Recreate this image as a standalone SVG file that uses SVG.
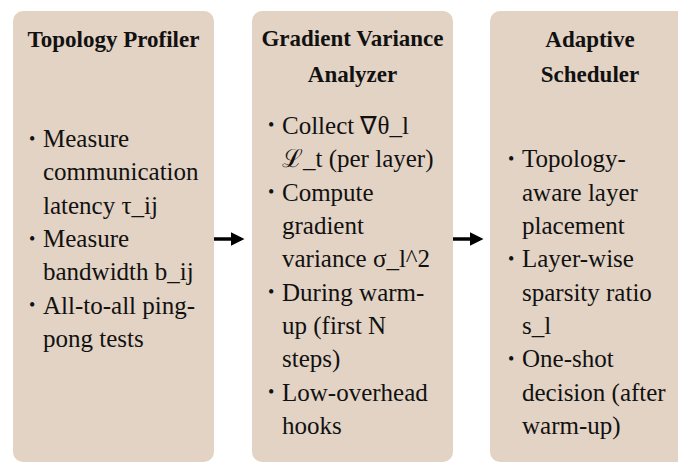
<svg xmlns="http://www.w3.org/2000/svg" width="678" height="462" viewBox="0 0 678 462">
<style>
text{font-family:'Liberation Serif','Times New Roman',serif;fill:#111;}
.box{fill:#e3d3c4;}
.title{font-weight:bold;font-size:23px;text-anchor:middle;}
.body{font-size:25px;}
.bul{font-size:18px;}
.conn{stroke:#000;stroke-width:3.5;fill:none;}
</style>
<defs>
<marker id="ah" markerWidth="4" markerHeight="4" refX="3" refY="2" orient="auto" markerUnits="strokeWidth">
<path d="M0,0 L4,2 L0,4 Z" fill="#000"/>
</marker>
</defs>
<rect width="678" height="462" fill="#fff"/>
<g id="node-topology-profiler">
<rect class="box" x="13" y="11" width="201" height="451" rx="10"/>
<text class="title" x="113.5" y="47">Topology Profiler</text>
<text class="bul" x="29" y="145">•</text>
<text class="body" x="43" y="147">Measure</text>
<text class="body" x="43" y="180">communication</text>
<text class="body" x="43" y="213.5">latency τ_ij</text>
<text class="bul" x="29" y="245">•</text>
<text class="body" x="43" y="247">Measure</text>
<text class="body" x="43" y="280">bandwidth b_ij</text>
<text class="bul" x="29" y="311">•</text>
<text class="body" x="43" y="313.5">All-to-all ping-</text>
<text class="body" x="43" y="347">pong tests</text>
</g>
<g id="node-gradient-variance-analyzer">
<rect class="box" x="252" y="11" width="201" height="451" rx="10"/>
<text class="title" x="352.5" y="46">Gradient Variance</text>
<text class="title" x="352.5" y="81.5">Analyzer</text>
<text class="bul" x="268" y="131">•</text>
<text class="body" x="282" y="133.5">Collect ∇θ_l</text>
<text class="body" x="282" y="167">ℒ_t (per layer)</text>
<text class="bul" x="268" y="198">•</text>
<text class="body" x="282" y="200.5">Compute</text>
<text class="body" x="282" y="234">gradient</text>
<text class="body" x="282" y="267">variance σ_l^2</text>
<text class="bul" x="268" y="298">•</text>
<text class="body" x="282" y="300.5">During warm-</text>
<text class="body" x="282" y="334">up (first N</text>
<text class="body" x="282" y="367">steps)</text>
<text class="bul" x="268" y="398">•</text>
<text class="body" x="282" y="400.5">Low-overhead</text>
<text class="body" x="282" y="434">hooks</text>
</g>
<g id="node-adaptive-scheduler">
<rect class="box" x="490" y="11" width="201" height="451" rx="10"/>
<text class="title" x="590" y="47">Adaptive</text>
<text class="title" x="590" y="81.5">Scheduler</text>
<text class="bul" x="508" y="165">•</text>
<text class="body" x="522" y="167">Topology-</text>
<text class="body" x="522" y="200.5">aware layer</text>
<text class="body" x="522" y="234">placement</text>
<text class="bul" x="508" y="265">•</text>
<text class="body" x="522" y="267">Layer-wise</text>
<text class="body" x="522" y="300.5">sparsity ratio</text>
<text class="body" x="522" y="334">s_l</text>
<text class="bul" x="508" y="365">•</text>
<text class="body" x="522" y="367">One-shot</text>
<text class="body" x="522" y="400.5">decision (after</text>
<text class="body" x="522" y="434">warm-up)</text>
</g>
<g id="connectors">
<line class="conn" x1="214" y1="239" x2="241" y2="239" marker-end="url(#ah)"/>
<line class="conn" x1="453" y1="239" x2="480" y2="239" marker-end="url(#ah)"/>
</g>
</svg>
